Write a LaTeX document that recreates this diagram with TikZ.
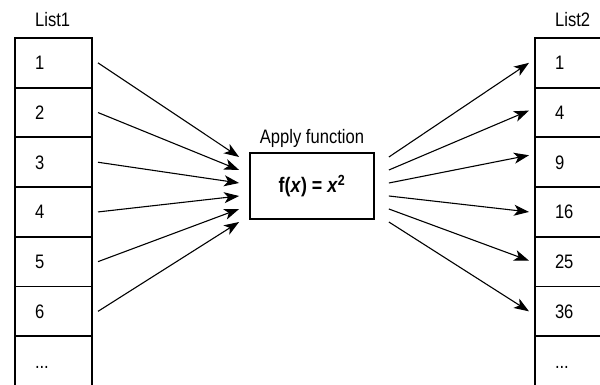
\documentclass[tikz,border=0pt]{standalone}
\usepackage{fontspec}
\setmainfont{Liberation Sans}[FakeStretch=0.85]
\usetikzlibrary{positioning,arrows.meta}
\tikzset{
cell/.style={
draw,
line width=1.8pt,
outer sep=0pt,
minimum height=49.7pt,
text width=37pt,
inner xsep=20pt,
text height=14pt,
text depth=0pt,
align=left,
font=\fontsize{19.5}{22}\selectfont
},
heading/.style={
anchor=base west,
inner sep=0pt,
font=\fontsize{19.5}{22}\selectfont
},
funcbox/.style={
draw,
line width=1.8pt,
minimum width=124pt,
minimum height=66pt,
font=\fontsize{21}{24}\selectfont\bfseries
},
arrow/.style={
-{Stealth[length=15pt,width=11pt,inset=4pt]},
line width=1.1pt
}
}

\begin{document}
\begin{tikzpicture}[x=1pt,y=-1pt]
\useasboundingbox (0,0) rectangle (600,385);

% input list
\node[cell](l1) at (53.5,62.85){1};
\node[cell,below=0pt of l1](l2){2};
\node[cell,below=0pt of l2](l3){3};
\node[cell,below=0pt of l3](l4){4};
\node[cell,below=0pt of l4](l5){5};
\node[cell,below=0pt of l5](l6){6};
\node[cell,below=0pt of l6](l7){...};
\node[heading](list1) at ([xshift=20pt,yshift=11pt]l1.north west){List1};

% function
\node[funcbox](fx) at (312,186){f(\textit{x}) = \textit{x}\textsuperscript{2}};
\node[heading,anchor=base](apply) at ([yshift=9pt]fx.north){Apply function};

% output list
\node[cell](r1) at (573.5,62.85){1};
\node[cell,below=0pt of r1](r2){4};
\node[cell,below=0pt of r2](r3){9};
\node[cell,below=0pt of r3](r4){16};
\node[cell,below=0pt of r4](r5){25};
\node[cell,below=0pt of r5](r6){36};
\node[cell,below=0pt of r6](r7){...};
\node[heading](list2) at ([xshift=20pt,yshift=11pt]r1.north west){List2};

\foreach \i/\d in {1/29,2/16,3/3,4/-10,5/-23,6/-36}
\draw[arrow]([xshift=6pt]l\i.east)--([xshift=-10pt,yshift=\d pt]fx.west);
\foreach \i/\d/\e in {1/29/0,2/16/2,3/3/7,4/-10/0,5/-23/1,6/-36/0}
\draw[arrow]([xshift=14pt,yshift=\d pt]fx.east)--([xshift=-6pt,yshift=\e pt]r\i.west);
\end{tikzpicture}
\end{document}
